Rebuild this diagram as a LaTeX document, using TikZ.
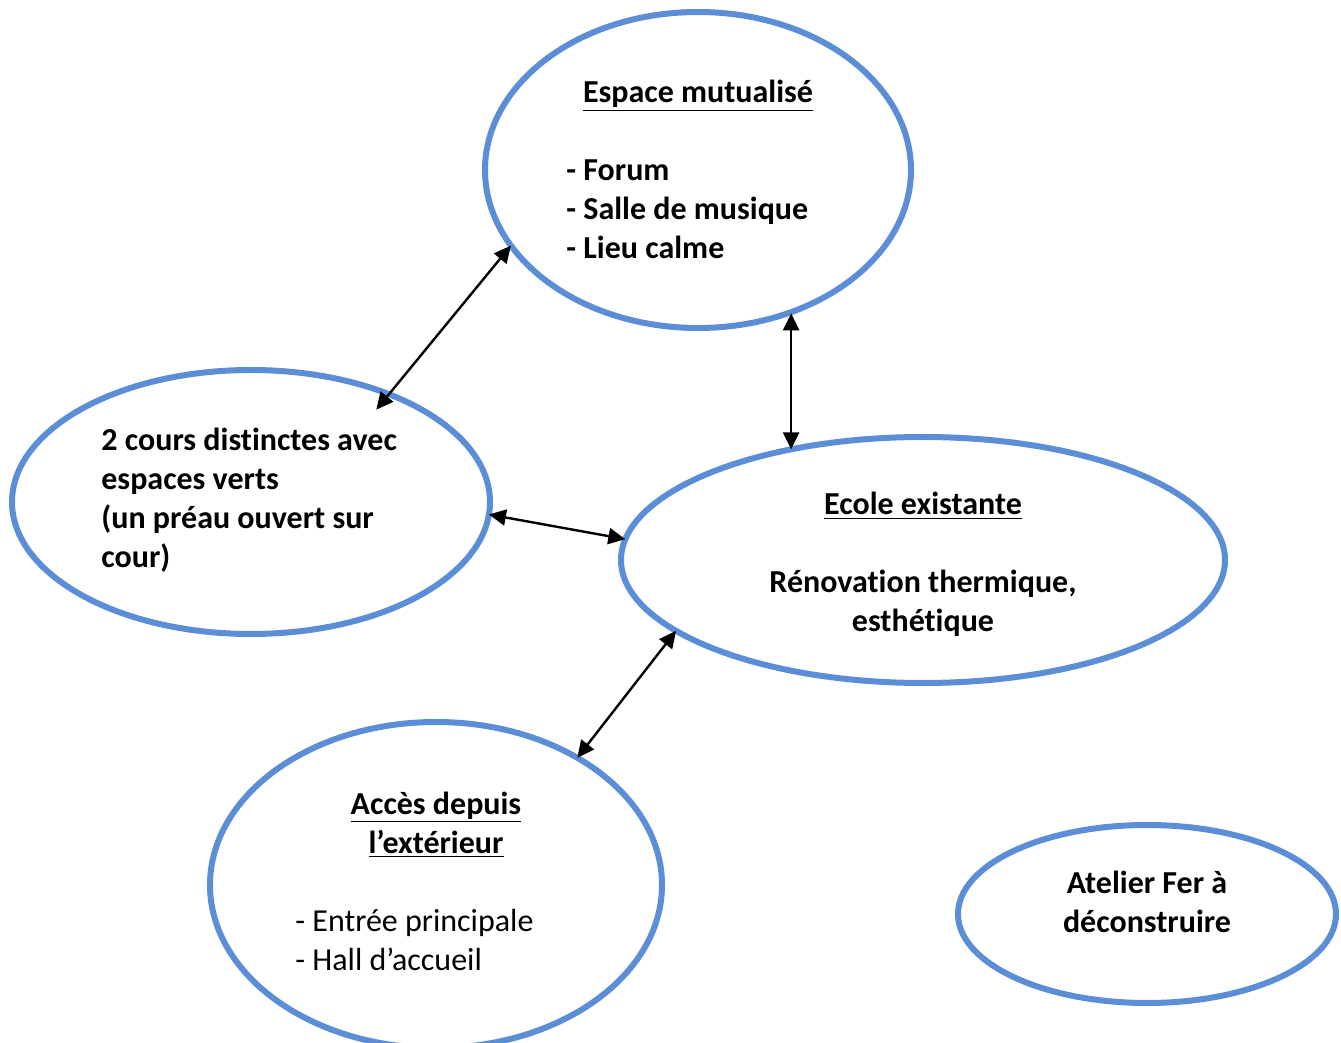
\documentclass[tikz,border=0pt]{standalone}
\usepackage{fontspec}
\setmainfont[Ligatures={NoCommon,NoContextual,NoRare}]{Carlito}
\usetikzlibrary{shapes.geometric,arrows.meta}
\definecolor{ellblue}{RGB}{91,142,214}
\newcommand{\tisep}{t\kern0pt i}
\tikzset{
  bubble/.style={ellipse, draw=ellblue, line width=3pt, inner sep=0pt, outer sep=0pt},
  lbl/.style={inner sep=0pt, anchor=base, font=\fontsize{16}{19.5}\selectfont\bfseries},
  lblw/.style={lbl, anchor=base west},
  plain/.style={inner sep=0pt, anchor=base west, font=\fontsize{16}{19.5}\selectfont},
  link/.style={line width=1.2pt, {Triangle[length=8.5pt,width=8pt]}-{Triangle[length=8.5pt,width=8pt]}}
}
\begin{document}
\begin{tikzpicture}[x=0.5pt,y=-0.5pt]
\useasboundingbox (0,0) rectangle (1341,1043);
% ellipses
\node[bubble, minimum width=213pt, minimum height=158pt] (esp) at (698,170) {};
\node[bubble, minimum width=239pt, minimum height=132pt] (cour) at (251,502) {};
\node[bubble, minimum width=302pt, minimum height=123pt] (eco) at (923,560) {};
\node[bubble, minimum width=226pt, minimum height=163pt] (acc) at (436,885) {};
\node[bubble, minimum width=189pt, minimum height=89pt] (ate) at (1147,914) {};
% texts: Espace mutualise
\node[lbl] (e1) at (698,103) {\underline{Espace mutualisé}};
\node[lblw] (e2) at (566,181) {- Forum};
\node[lblw] (e3) at (566,220) {- Salle de musique};
\node[lblw] (e4) at (566,259) {- Lieu calme};
% cours
\node[lblw] (c1) at (101,451) {2 cours dis\tisep nctes avec};
\node[lblw] (c2) at (101,490) {espaces verts};
\node[lblw] (c3) at (101,529) {(un préau ouvert sur};
\node[lblw] (c4) at (101,568) {cour)};
% ecole
\node[lbl] (s1) at (923,515) {\underline{Ecole existante}};
\node[lbl] (s2) at (923,593) {Rénova\tisep on thermique,};
\node[lbl] (s3) at (923,632) {esthé\tisep que};
% acces
\node[lbl] (a1) at (436,814) {\underline{Accès depuis}};
\node[lbl] (a2) at (436,853) {\underline{l’extérieur}};
\node[plain] (a3) at (295,931) {- Entrée principale};
\node[plain] (a4) at (295,970) {- Hall d’accueil};
% atelier
\node[lbl] (f1) at (1147,893) {Atelier Fer à};
\node[lbl] (f2) at (1147,932) {déconstruire};
% connectors
\draw[link, shorten >=-10pt] (esp.202.2) -- (cour.38);
\draw[link] (eco.140.3 |- esp.302.8) -- (eco.140.3);
\draw[link] (cour.357.6) -- (eco.176.7);
\draw[link] (acc.42.9) -- (eco.196.5);
\end{tikzpicture}
\end{document}
